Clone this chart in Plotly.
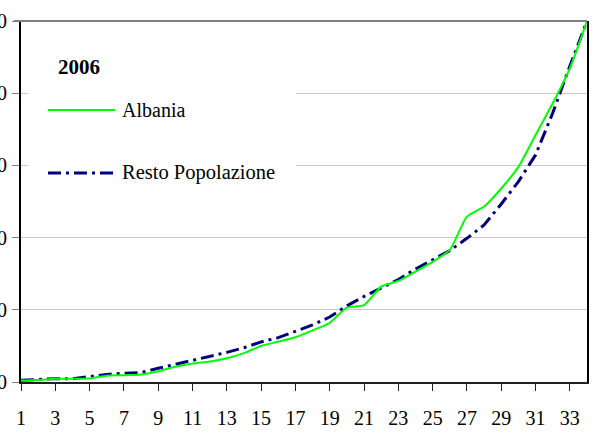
import plotly.graph_objects as go

categories = list(range(1, 35))
albania = [0.4, 0.55, 0.9, 0.9, 1.0, 1.75, 1.9, 2.1, 3.0, 4.2, 5.1, 5.7, 6.6, 8.0,
           10.0, 11.2, 12.4, 14.3, 16.4, 20.6, 21.3, 26.4, 28.0, 30.6, 33.3, 36.6,
           45.8, 48.6, 53.6, 59.6, 68.4, 77.2, 86.9, 100.0]
resto = [0.5, 0.8, 0.9, 0.9, 1.6, 2.1, 2.4, 2.6, 3.8, 4.9, 5.9, 7.0, 8.2, 9.5,
         11.1, 12.3, 14.0, 15.8, 18.0, 21.1, 23.7, 26.0, 28.4, 31.3, 33.8, 36.4,
         39.8, 43.5, 49.3, 55.5, 62.9, 74.5, 87.5, 100.0]
x_tickvals = list(range(1, 34, 2))
x_ticktext = [str(v) for v in x_tickvals]
y_tickvals = [0, 20, 40, 60, 80, 100]
legend_title = "2006"
series_names = ["Albania", "Resto Popolazione"]

FONT = "Liberation Serif, Times New Roman, serif"
W, H = 592, 435
L, R, T, B = 21, 5, 21, 53
PW, PH = W - L - R, H - T - B


def px(x):
    return (x - L) / PW


def py(y):
    return (H - B - y) / PH


fig = go.Figure()
fig.add_trace(go.Scatter(x=categories, y=resto, mode="lines", name=series_names[1],
                         line=dict(color="#000080", width=3, dash="13px,5px,3px,5px"),
                         showlegend=False))
fig.add_trace(go.Scatter(x=categories, y=albania, mode="lines", name=series_names[0],
                         line=dict(color="#00FF00", width=2, shape="spline", smoothing=0.6),
                         showlegend=False))

shapes = [
    # legend box background
    dict(type="rect", xref="paper", yref="paper", x0=px(28), x1=px(296), y0=py(205), y1=py(40),
         fillcolor="white", line=dict(width=0), layer="above"),
    # legend sample lines
    dict(type="line", xref="paper", yref="paper", x0=px(48), x1=px(115), y0=py(110), y1=py(110),
         line=dict(color="#00FF00", width=2)),
    dict(type="line", xref="paper", yref="paper", x0=px(48), x1=px(115), y0=py(173), y1=py(173),
         line=dict(color="#000080", width=3, dash="13px,5px,3px,5px")),
    # top border
    dict(type="line", xref="paper", yref="paper", x0=px(14), x1=1, y0=1, y1=1,
         line=dict(color="#7f7f7f", width=2)),
]

annotations = [
    dict(text="<b>" + legend_title + "</b>", xref="paper", yref="paper", x=px(56), y=py(67),
         xanchor="left", yanchor="middle", showarrow=False,
         font=dict(family=FONT, size=21, color="black")),
    dict(text=series_names[0], xref="paper", yref="paper", x=px(120), y=py(110),
         xanchor="left", yanchor="middle", showarrow=False,
         font=dict(family=FONT, size=20, color="black")),
    dict(text=series_names[1], xref="paper", yref="paper", x=px(120), y=py(172),
         xanchor="left", yanchor="middle", showarrow=False,
         font=dict(family=FONT, size=20.5, color="black")),
]

fig.update_layout(
    width=W, height=H,
    margin=dict(l=L, r=R, t=T, b=B, autoexpand=False),
    paper_bgcolor="white", plot_bgcolor="white",
    font=dict(family=FONT, size=20, color="black"),
    shapes=shapes, annotations=annotations,
    showlegend=False,
)
fig.update_xaxes(range=[1, 34], tickvals=x_tickvals, ticktext=x_ticktext, automargin=False,
                 showgrid=False, showline=True, linecolor="#202020", linewidth=2,
                 ticks="outside", ticklen=7, tickcolor="#202020", tickwidth=1,
                 zeroline=False, ticklabelstandoff=10, tickfont=dict(family=FONT, size=20))
fig.update_yaxes(range=[0, 100], tickvals=y_tickvals, showgrid=True, gridcolor="#c8c8c8",
                 gridwidth=1, showline=True, linecolor="black", linewidth=2, mirror=True,
                 ticks="outside", ticklen=7, tickcolor="#7f7f7f", zeroline=False, automargin=False,
                 ticklabelstandoff=1, tickfont=dict(family=FONT, size=20))

fig.write_html("out.html", config={"displayModeBar": False},
               post_script="document.body.style.margin='0';document.body.style.overflow='hidden';")
